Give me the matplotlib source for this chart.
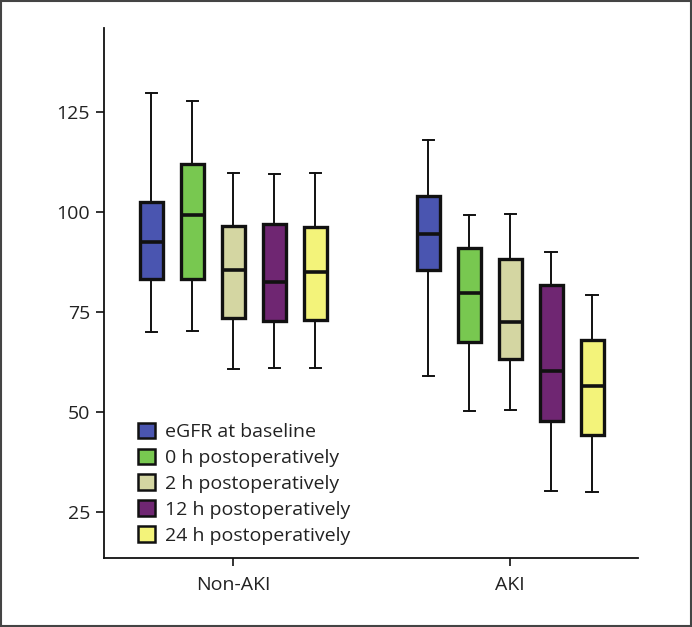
import matplotlib
matplotlib.use("Agg")
import matplotlib.pyplot as plt
from matplotlib.patches import Rectangle, Patch

plt.rcParams['font.family'] = ['Open Sans', 'DejaVu Sans']

groups = ["Non-AKI", "AKI"]
series = ["eGFR at baseline", "0 h postoperatively", "2 h postoperatively",
          "12 h postoperatively", "24 h postoperatively"]
colors = ["#4A55B0", "#78C850", "#D4D6A2", "#6F2672", "#F3F37A"]

# per group, per series: low whisker, Q1, median, Q3, high whisker
whislo = [[70.1, 70.3, 60.7, 60.9, 61.1],
          [59.0, 50.2, 50.6, 30.3, 29.9]]
q1 = [[83.3, 83.3, 73.6, 72.8, 73.1],
      [85.4, 67.5, 63.3, 47.7, 44.2]]
med = [[92.5, 99.3, 85.6, 82.6, 85.1],
       [94.6, 79.7, 72.6, 60.3, 56.5]]
q3 = [[102.5, 112.0, 96.6, 96.9, 96.3],
      [103.9, 91.1, 88.3, 81.8, 68.0]]
whishi = [[129.7, 127.8, 109.8, 109.5, 109.8],
          [118.0, 99.3, 99.5, 89.9, 79.3]]

yticks = [25, 50, 75, 100, 125]

fig = plt.figure(figsize=(6.92, 6.27), dpi=100)
ax = fig.add_axes([104/692, 69/627, 534/692, 530/627])

offset = 0.148
width = 0.083
for g in range(len(groups)):
    for s in range(len(series)):
        pos = g + (s - 2) * offset
        stats = [dict(whislo=whislo[g][s], q1=q1[g][s], med=med[g][s],
                      q3=q3[g][s], whishi=whishi[g][s], fliers=[])]
        ax.bxp(stats, positions=[pos], widths=width, patch_artist=True,
               showfliers=False,
               boxprops=dict(facecolor=colors[s], edgecolor="#111111", linewidth=2.4),
               medianprops=dict(color="#111111", linewidth=2.6),
               whiskerprops=dict(color="#111111", linewidth=1.4),
               capprops=dict(color="#111111", linewidth=1.4),
               capwidths=0.04, manage_ticks=False)

ax.set_xlim(-0.466, 1.462)
ax.set_ylim(13.5, 146)
ax.set_xticks([0, 1])
ax.set_xticklabels(groups)
ax.set_yticks(yticks)
ax.set_yticklabels([str(v) for v in yticks])
for sp in ["top", "right"]:
    ax.spines[sp].set_visible(False)
for sp in ["left", "bottom"]:
    ax.spines[sp].set_linewidth(1.3)
    ax.spines[sp].set_color("#111111")
ax.tick_params(axis="both", direction="out", length=6, width=1.2, colors="#111111",
               labelsize=14, labelcolor="#222222")
ax.tick_params(axis="x", pad=7)
ax.tick_params(axis="y", pad=4)

handles = [Patch(facecolor=c, edgecolor="#111111", linewidth=1.8) for c in colors]
ax.legend(handles, series, loc="upper left", bbox_to_anchor=(0.05, 0.27),
          frameon=False, fontsize=14, handlelength=0.85, handleheight=0.85,
          handletextpad=0.5, labelspacing=0.38, borderaxespad=0,
          labelcolor="#222222")

fig.patches.append(Rectangle((0.001, 0.001), 0.997, 0.997, transform=fig.transFigure,
                             fill=False, edgecolor="#444444", linewidth=1.5))

fig.savefig("out.png", dpi=100)
